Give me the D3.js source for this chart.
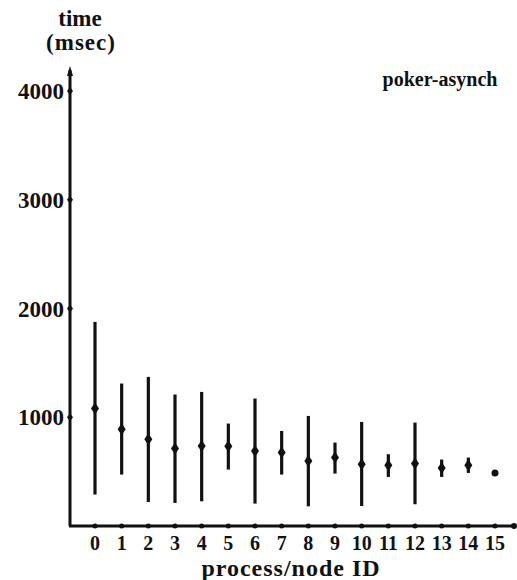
<!DOCTYPE html>
<html>
<head>
<meta charset="utf-8">
<script src="https://cdn.jsdelivr.net/npm/d3@7"></script>
<style>
  body { margin: 0; background: #fff; }
  text { font-family: "Liberation Serif", "Times New Roman", serif; font-weight: bold; fill: #111; }
</style>
</head>
<body>
<div class="canva"></div>
<script>
// process / node IDs
const nodes = d3.range(0, 16);
// mean response time (msec) and the min / max of the range
const means = [1080, 890, 798, 712, 736, 733, 690, 675, 598, 629, 568, 558, 574, 534, 558, 488];
const lows  = [289, 473, 221, 212, 227, 519, 206, 473, 181, 482, 184, 451, 200, 451, 488, 488];
const highs = [1877, 1310, 1371, 1209, 1233, 942, 1172, 874, 1012, 767, 957, 660, 951, 611, 629, 488];
const yTicks = [1000, 2000, 3000, 4000];

const svg = d3.select(".canva").append("svg")
    .attr("width", 517)
    .attr("height", 580);

const x = d3.scaleLinear()
    .domain([0, 15])
    .range([95, 495]);

const y = d3.scaleLinear()
    .domain([0, 4000])
    .range([526, 91]);

const ink = "#111";
const axisX = 70, axisY = y(0);

// y axis with arrow
svg.append("line")
    .attr("x1", axisX).attr("y1", axisY)
    .attr("x2", axisX).attr("y2", 70)
    .attr("stroke", ink).attr("stroke-width", 3);
svg.append("path")
    .attr("d", `M${axisX - 3},${76} L${axisX},${66} L${axisX + 3},${76} Z`)
    .attr("fill", ink);

svg.selectAll(".ytick")
    .data(yTicks)
    .enter()
    .append("path")
    .attr("class", "ytick")
    .attr("d", d => `M${axisX - 3},${y(d)} L${axisX},${y(d) - 4} L${axisX + 3},${y(d)} L${axisX},${y(d) + 4} Z`)
    .attr("fill", ink);

svg.selectAll(".ylab")
    .data(yTicks)
    .enter()
    .append("text")
    .attr("class", "ylab")
    .attr("x", axisX - 6)
    .attr("y", d => y(d) + 8)
    .attr("text-anchor", "end")
    .style("font-size", "23px")
    .text(d => d);

// x axis
svg.append("line")
    .attr("x1", axisX - 1).attr("y1", axisY)
    .attr("x2", 514).attr("y2", axisY)
    .attr("stroke", ink).attr("stroke-width", 3);
svg.append("circle")
    .attr("cx", 514).attr("cy", axisY).attr("r", 3)
    .attr("fill", ink);

svg.selectAll(".xtick")
    .data(nodes)
    .enter()
    .append("circle")
    .attr("class", "xtick")
    .attr("cx", d => x(d))
    .attr("cy", axisY)
    .attr("r", 2.5)
    .attr("fill", ink);

svg.selectAll(".xlab")
    .data(nodes)
    .enter()
    .append("text")
    .attr("class", "xlab")
    .attr("x", d => x(d))
    .attr("y", 550)
    .attr("text-anchor", "middle")
    .style("font-size", "20px")
    .text(d => d);

// range bars
svg.selectAll(".range")
    .data(nodes.filter(i => highs[i] > lows[i]))
    .enter()
    .append("line")
    .attr("class", "range")
    .attr("x1", i => x(i)).attr("x2", i => x(i))
    .attr("y1", i => y(lows[i]))
    .attr("y2", i => y(highs[i]))
    .attr("stroke", ink)
    .attr("stroke-width", 3.2);

// mean markers (a plain dot where there is no range)
svg.selectAll(".mean")
    .data(nodes)
    .enter()
    .append("path")
    .attr("class", "mean")
    .attr("d", i => {
        const cx = x(i), cy = y(means[i]);
        if (highs[i] <= lows[i]) {
            return `M${cx - 3.5},${cy} a3.5,3.5 0 1,0 7,0 a3.5,3.5 0 1,0 -7,0 Z`;
        }
        return `M${cx - 4},${cy} L${cx},${cy - 6} L${cx + 4},${cy} L${cx},${cy + 6} Z`;
    })
    .attr("fill", ink);

// labels
svg.append("text")
    .attr("x", 80).attr("y", 26)
    .attr("text-anchor", "middle")
    .style("font-size", "23px")
    .text("time");
svg.append("text")
    .attr("x", 81).attr("y", 50)
    .attr("text-anchor", "middle")
    .style("font-size", "23px")
    .style("letter-spacing", "1px")
    .text("(msec)");

svg.append("text")
    .attr("x", 440).attr("y", 86)
    .attr("text-anchor", "middle")
    .style("font-size", "20px")
    .text("poker-asynch");

svg.append("text")
    .attr("x", 291).attr("y", 576)
    .attr("text-anchor", "middle")
    .style("font-size", "24px")
    .style("letter-spacing", "1px")
    .text("process/node ID");
</script>
</body>
</html>
